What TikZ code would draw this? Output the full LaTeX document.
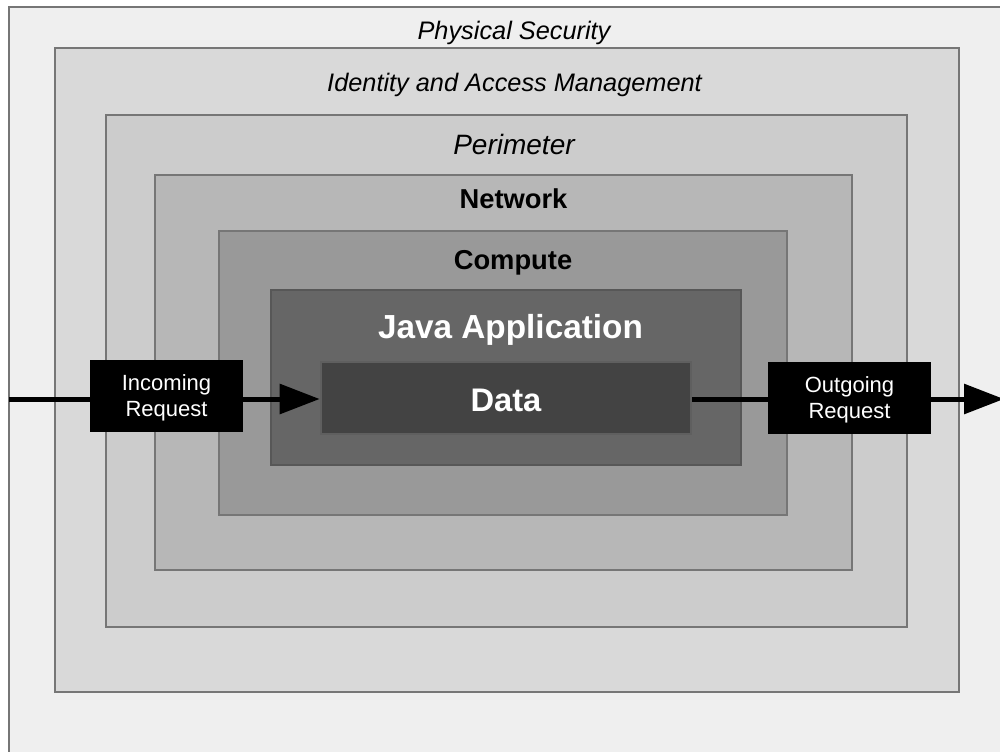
\documentclass[tikz,border=0pt]{standalone}
\usepackage{fontspec}
\setmainfont{Liberation Sans}
\usetikzlibrary{arrows.meta,positioning}

\definecolor{physfill}{HTML}{EFEFEF}
\definecolor{iamfill}{HTML}{D9D9D9}
\definecolor{perimfill}{HTML}{CCCCCC}
\definecolor{netfill}{HTML}{B7B7B7}
\definecolor{compfill}{HTML}{999999}
\definecolor{javafill}{HTML}{666666}
\definecolor{datafill}{HTML}{434343}
\definecolor{rimgray}{HTML}{767676}

\begin{document}
\begin{tikzpicture}[x=0.75pt, y=-0.75pt,
    layer/.style={draw=rimgray, line width=1.7pt},
    layertext/.style={anchor=base, inner sep=0pt, font=\fontsize{19}{23}\selectfont},
    reqbox/.style={fill=black, text=white, align=center, inner sep=0pt, text depth=0pt,
      minimum height=54pt, font=\fontsize{16.5}{19.5}\selectfont},
    flow/.style={line width=3.75pt}]
  \useasboundingbox (0,0) rectangle (1000,751);
  \begin{scope}
    \clip (0,0) rectangle (1000,751);
    \draw[layer, fill=physfill] (9,7) rectangle (1012,765);
  \end{scope}
  \draw[layer, fill=iamfill] (55,48) rectangle (959,692);
  \draw[layer, fill=perimfill] (106,115) rectangle (907,627);
  \draw[layer, fill=netfill] (155,175) rectangle (852,570);
  \draw[layer, fill=compfill] (219,231) rectangle (787,515);
  \draw[layer, draw=javafill!85!black, fill=javafill] (271,290) rectangle (741,465);

  % layer labels
  \node (physlabel) [layertext] at (514,39) {\itshape Physical Security};
  \node (iamlabel) [layertext] at (514.5,91) {\itshape Identity and Access Management};
  \node (perimlabel) [layertext, font=\fontsize{21}{25}\selectfont] at (514,154) {\itshape Perimeter};
  \node (netlabel) [layertext, font=\fontsize{20.5}{25}\selectfont] at (513.5,208) {\bfseries Network};
  \node (complabel) [layertext, font=\fontsize{20.5}{25}\selectfont] at (513,269) {\bfseries Compute};
  \node (javalabel) [layertext, text=white, font=\fontsize{25}{30}\selectfont] at (510.5,338) {\bfseries Java Application};

  \node (data) [draw=datafill!85!white, line width=1.5pt, fill=datafill, text=white, inner sep=0pt,
    text height=20.5pt, text depth=0pt,
    minimum width=278pt, minimum height=54pt, font=\fontsize{24.5}{29}\bfseries\selectfont]
    at (506,398) {Data};

  \node (incoming) [reqbox, minimum width=115pt] at (166.5,396) {Incoming\\Request};
  \node (outgoing) [reqbox, minimum width=122pt] at (849.5,398) {Outgoing\\Request};

  \coordinate (instart) at (9,399);
  \coordinate (outend) at (1004,399);

  \draw[flow] (instart) -- (incoming.west |- instart);
  \draw[flow, -{Triangle[length=30pt, width=22pt]}] (incoming.east |- instart) -- (data.west |- instart);
  \draw[flow] (data.east |- instart) -- (outgoing.west |- instart);
  \draw[flow, -{Triangle[length=30pt, width=22pt]}] (outgoing.east |- instart) -- (outend);
\end{tikzpicture}
\end{document}
